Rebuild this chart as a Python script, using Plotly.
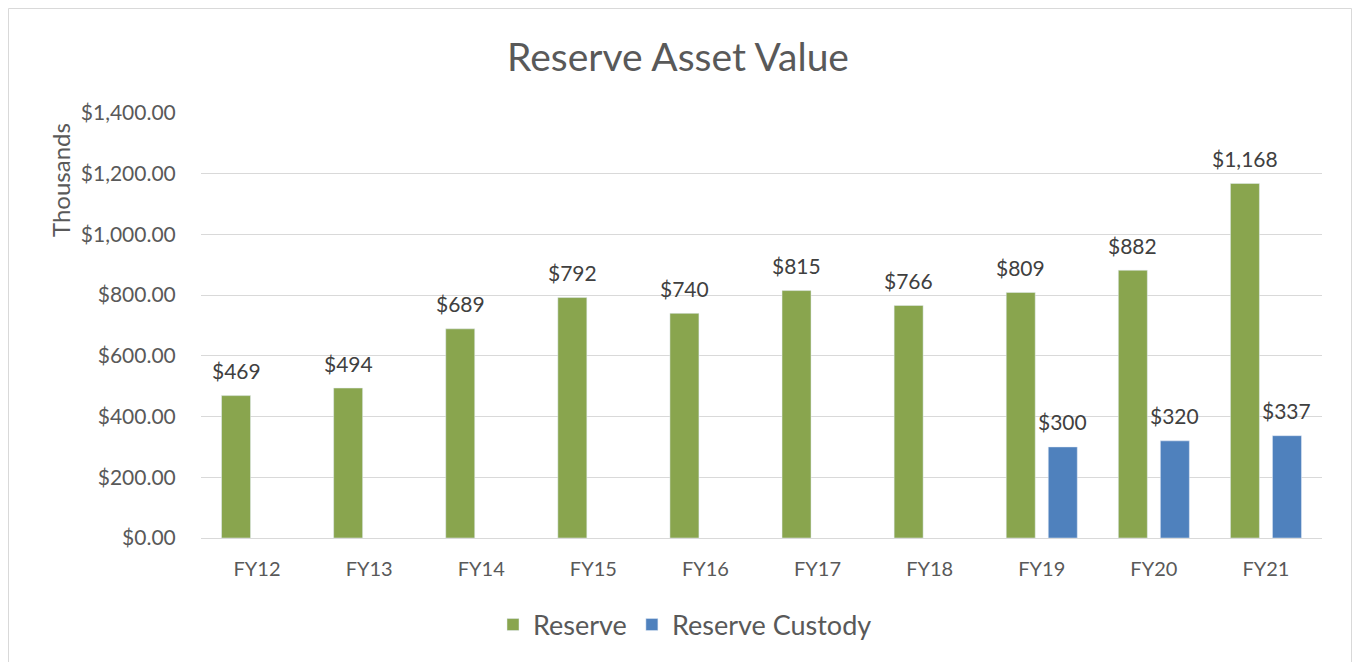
import plotly.graph_objects as go

categories = ["FY12", "FY13", "FY14", "FY15", "FY16", "FY17", "FY18", "FY19", "FY20", "FY21"]
reserve = [469, 494, 689, 792, 740, 815, 766, 809, 882, 1168]
custody = [None, None, None, None, None, None, None, 300, 320, 337]

GREEN = "#89A54E"
BLUE = "#4F81BD"
FONT = "Lato, 'Open Sans', sans-serif"
TXT = "#595959"
LABEL = "#404040"

fig = go.Figure()
fig.add_trace(go.Bar(name="Reserve", x=categories, y=reserve, marker_color=GREEN))
fig.add_trace(go.Bar(name="Reserve Custody", x=categories, y=custody, marker_color=BLUE))

L, R, T, B = 201, 34, 113, 124
W, H = 1356, 662
pw, ph = W - L - R, H - T - B
def px(x): return (x - L) / pw
def py(y): return (H - B - y) / ph

# data labels (built from the series arrays)
annotations = []
for series, shift in ((reserve, -21), (custody, 21)):
    for cat, v in zip(categories, series):
        if v is None:
            continue
        annotations.append(dict(x=cat, y=v, xref="x", yref="y", text="${:,.0f}".format(v),
                                showarrow=False, xshift=shift, yshift=25, yanchor="middle",
                                font=dict(size=21, color=LABEL, family=FONT)))

# axis title placed near the top like the original
annotations.append(dict(text="Thousands", xref="paper", yref="paper", x=px(60), y=py(180),
                        xanchor="center", yanchor="middle", textangle=-90, showarrow=False,
                        font=dict(size=24, color=TXT, family=FONT)))

fig.update_layout(
    width=W, height=H,
    margin=dict(l=L, r=R, t=T, b=B),
    paper_bgcolor="white", plot_bgcolor="white",
    barmode="group", bargap=0.25, bargroupgap=0.31,
    font=dict(family=FONT, color=TXT),
    title=dict(text="Reserve Asset Value", x=0.5, xref="container", xanchor="center",
               y=1 - 57 / H, yref="container", yanchor="middle",
               font=dict(size=39, color=TXT, family=FONT)),
    showlegend=True,
    legend=dict(orientation="h", x=px(685), xanchor="center", y=py(625), yanchor="middle",
                font=dict(size=27, color=TXT, family=FONT), itemwidth=30,
                traceorder="normal", bgcolor="rgba(0,0,0,0)"),
    xaxis=dict(showgrid=False, showline=True, linecolor="#d9d9d9", linewidth=1,
               ticks="outside", ticklen=13, tickcolor="rgba(0,0,0,0)",
               tickfont=dict(size=20, color=TXT, family=FONT)),
    yaxis=dict(range=[0, 1400], dtick=200, tickformat="$,.2f", showgrid=True,
               gridcolor="#d9d9d9", gridwidth=1, zeroline=False,
               ticks="outside", ticklen=20, tickcolor="rgba(0,0,0,0)",
               tickfont=dict(size=21, color=TXT, family=FONT)),
    annotations=annotations,
    shapes=[dict(type="rect", xref="paper", yref="paper",
                 x0=px(8.5), x1=px(1351.5), y0=py(700), y1=py(8.5),
                 line=dict(color="#d9d9d9", width=1), fillcolor="rgba(0,0,0,0)", layer="below")],
)

fig.write_html("out.html")
